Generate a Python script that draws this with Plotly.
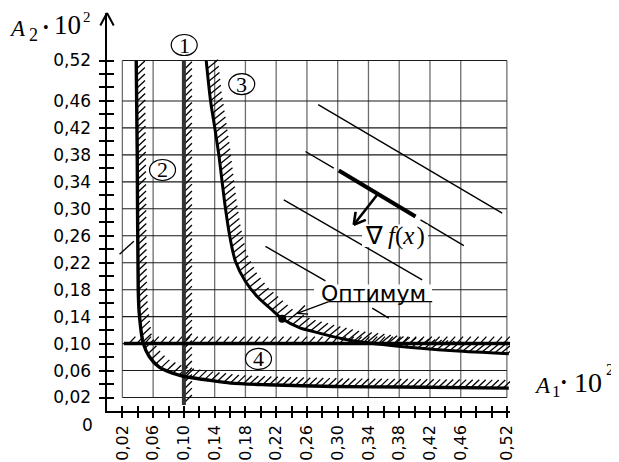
import math
import plotly.graph_objects as go

# ---------------- data ----------------
X_LABEL_VALS = [0.02, 0.06, 0.10, 0.14, 0.18, 0.22, 0.26, 0.30, 0.34, 0.38, 0.42, 0.46, 0.52]
Y_LABEL_VALS = [0.02, 0.06, 0.10, 0.14, 0.18, 0.22, 0.26, 0.30, 0.34, 0.38, 0.42, 0.46, 0.52]
X_LABELS = ["0,02", "0,06", "0,10", "0,14", "0,18", "0,22", "0,26", "0,30", "0,34", "0,38", "0,42", "0,46", "0,52"]
Y_LABELS = ["0,02", "0,06", "0,10", "0,14", "0,18", "0,22", "0,26", "0,30", "0,34", "0,38", "0,42", "0,46", "0,52"]
TICK_STEP = 0.02
GRID_X = [0.02, 0.06, 0.10, 0.14, 0.18, 0.22, 0.26, 0.30, 0.34, 0.38, 0.42, 0.46, 0.52]
GRID_Y = [0.02, 0.06, 0.10, 0.14, 0.18, 0.22, 0.26, 0.30, 0.34, 0.38, 0.42, 0.46, 0.52]

# constraint 1: A1 = 0.10
LINE1_X = [0.10, 0.10]
LINE1_Y = [0.009, 0.52]
# constraint 4: A2 = 0.10
LINE4_X = [0.022, 0.525]
LINE4_Y = [0.10, 0.10]
# constraint 2 curve
CURVE2_X = [0.038, 0.0393, 0.0406, 0.0419, 0.0471, 0.0549, 0.0679, 0.0852, 0.1004, 0.1285, 0.161, 0.2083, 0.2949, 0.3817, 0.5225]
CURVE2_Y = [0.520, 0.3816, 0.1798, 0.1453, 0.1007, 0.0809, 0.0651, 0.0562, 0.0512, 0.0463, 0.0414, 0.0389, 0.0364, 0.0355, 0.0340]
# constraint 3 curve
CURVE3_X = [0.129, 0.1346, 0.1402, 0.1454, 0.1498, 0.1541, 0.1597, 0.1671, 0.1801, 0.1953, 0.2169, 0.2278, 0.2516, 0.2646, 0.3124, 0.3817, 0.4510, 0.5225]
CURVE3_Y = [0.520, 0.4607, 0.4197, 0.3801, 0.3390, 0.3000, 0.2589, 0.2218, 0.1921, 0.1699, 0.1476, 0.1368, 0.1230, 0.1190, 0.1056, 0.0957, 0.0893, 0.0849]

# objective function level lines (segments: x0, y0, x1, y1)
LEVEL_LINES = [
    (0.2746, 0.4545, 0.5139, 0.2936),
    (0.2581, 0.3850, 0.2949, 0.3604),
    (0.4077, 0.2837, 0.4640, 0.2455),
    (0.2299, 0.3134, 0.4099, 0.1947),
    (0.2061, 0.2441, 0.2841, 0.1932),
    (0.3449, 0.1527, 0.3664, 0.1378),
    (0.0163, 0.2326, 0.0349, 0.2519),
]
THICK_LEVEL = (0.3014, 0.3568, 0.4012, 0.2886)
GRAD_ARROW = (0.3514, 0.3208, 0.3209, 0.2763)

OPT_X = [0.2278]
OPT_Y = [0.1368]
OPT_UNDERLINE = (0.2884, 0.1622, 0.4229, 0.1622)
OPT_LEADER_TIP = (0.2473, 0.1450)
OPT_LABEL = ("Оптимум", 0.3459, 0.1750)
GRAD_LABEL = ("∇\u2009<i>f</i>(<i>x</i>\u200a)", 0.3745, 0.2596)

CIRCLE_LABELS = ["1", "2", "3", "4"]
CIRCLE_X = [0.1004, 0.0722, 0.1752, 0.197]
CIRCLE_Y = [0.543, 0.3576, 0.485, 0.0772]

# ---------------- geometry (page has an 8px body margin) ----------------
OFF = 8
W, H = 619 - OFF, 462 - OFF
PL, PR, PT, PB = 107, 510, 13, 411          # plot area in page pixels
ML, MR, MT, MB = PL - OFF, W - (PR - OFF), PT - OFF, H - (PB - OFF)
KX, KY = 769.0, 674.0
XR = [0, (PR - PL) / KX]
YR = [0, (PB - PT) / KY]


def paper_x(px):
    return (px - PL) / (PR - PL)


def paper_y(py):
    return (PB - py) / (PB - PT)


def segs_xy(segs):
    xs, ys = [], []
    for (a, b, c, d) in segs:
        xs += [a, c, None]
        ys += [b, d, None]
    return xs, ys


def barbs(x0, y0, x1, y1, length=11, ang=28):
    ux, uy = (x1 - x0) * KX, (y1 - y0) * KY
    n = math.hypot(ux, uy)
    ux, uy = ux / n, uy / n
    out = []
    for s in (1, -1):
        a = math.radians(ang) * s
        rx = ux * math.cos(a) - uy * math.sin(a)
        ry = ux * math.sin(a) + uy * math.cos(a)
        out.append((x1, y1, x1 - rx * length / KX, y1 - ry * length / KY))
    return out


def hatch(xs, ys, spacing=6.5, dxp=8.0, dyp=8.0, ymax=0.522, start=2.0):
    px = [x * KX for x in xs]
    py = [y * KY for y in ys]
    segs = []
    s_next = start
    acc = 0.0
    for i in range(len(px) - 1):
        x0, y0, x1, y1 = px[i], py[i], px[i + 1], py[i + 1]
        L = math.hypot(x1 - x0, y1 - y0)
        while s_next <= acc + L:
            t = (s_next - acc) / L
            X = x0 + t * (x1 - x0)
            Y = y0 + t * (y1 - y0)
            if (Y + dyp) / KY <= ymax:
                segs.append((X / KX, Y / KY, (X + dxp) / KX, (Y + dyp) / KY))
            s_next += spacing
        acc += L
    return segs


fig = go.Figure()

# grid
gv = [(g, GRID_Y[0], g, GRID_Y[-1]) for g in GRID_X]
gh = [(GRID_X[0], g, GRID_X[-1], g) for g in GRID_Y]
x, y = segs_xy(gv)
fig.add_trace(go.Scatter(x=x, y=y, mode="lines", line=dict(color="#6e6e6e", width=1.3), hoverinfo="skip"))
x, y = segs_xy(gh)
fig.add_trace(go.Scatter(x=x, y=y, mode="lines", line=dict(color="#1a1a1a", width=1.1), hoverinfo="skip"))

# hatching
hs = []
hs += hatch(LINE1_X, LINE1_Y, spacing=6.8, dxp=8, dyp=8)
hs += hatch(LINE4_X, LINE4_Y, spacing=7.8, dxp=6.5, dyp=7, start=5)
hs += hatch(CURVE2_X, CURVE2_Y, spacing=6.5, dxp=8.5, dyp=8)
hs += hatch(CURVE3_X, CURVE3_Y, spacing=6.4, dxp=11, dyp=9)
x, y = segs_xy(hs)
fig.add_trace(go.Scatter(x=x, y=y, mode="lines", line=dict(color="black", width=1.3), hoverinfo="skip"))

# level lines
x, y = segs_xy(LEVEL_LINES)
fig.add_trace(go.Scatter(x=x, y=y, mode="lines", line=dict(color="black", width=1.4), hoverinfo="skip"))
x, y = segs_xy([THICK_LEVEL])
fig.add_trace(go.Scatter(x=x, y=y, mode="lines", line=dict(color="black", width=4), hoverinfo="skip"))

# gradient arrow
g = GRAD_ARROW
x, y = segs_xy([g] + barbs(*g, length=13, ang=30))
fig.add_trace(go.Scatter(x=x, y=y, mode="lines", line=dict(color="black", width=2.6), hoverinfo="skip"))

# constraint lines
fig.add_trace(go.Scatter(x=LINE1_X, y=LINE1_Y, mode="lines", line=dict(color="#333333", width=4), hoverinfo="skip"))
fig.add_trace(go.Scatter(x=LINE4_X, y=LINE4_Y, mode="lines", line=dict(color="black", width=3.5), hoverinfo="skip"))
fig.add_trace(go.Scatter(x=CURVE2_X, y=CURVE2_Y, mode="lines", line=dict(color="black", width=3.4, shape="spline", smoothing=0.8), hoverinfo="skip"))
fig.add_trace(go.Scatter(x=CURVE3_X, y=CURVE3_Y, mode="lines", line=dict(color="black", width=3, shape="spline", smoothing=0.8), hoverinfo="skip"))

# optimum
fig.add_trace(go.Scatter(x=OPT_X, y=OPT_Y, mode="markers", marker=dict(color="black", size=8), hoverinfo="skip"))
lead = (OPT_UNDERLINE[0], OPT_UNDERLINE[1], OPT_LEADER_TIP[0], OPT_LEADER_TIP[1])
x, y = segs_xy([lead] + barbs(*lead, length=11, ang=25))
fig.add_trace(go.Scatter(x=x, y=y, mode="lines", line=dict(color="black", width=1.3), hoverinfo="skip"))

# dummy for overlay axes (inner tick halves)
fig.add_trace(go.Scatter(x=[None], y=[None], xaxis="x2", yaxis="y2", hoverinfo="skip"))

shapes = []
# y axis arrow head (paper coords so it is not clipped)
for s in (-1, 1):
    shapes.append(dict(type="line", xref="paper", yref="paper", x0=0, y0=1,
                       x1=s * 6.7 / (PR - PL), y1=1 - 12.5 / (PB - PT),
                       line=dict(color="black", width=2)))


def mask(cx, cy, hw_l, hw_r, hh_t, hh_b):
    return dict(type="rect", xref="x", yref="y", xsizemode="pixel", ysizemode="pixel",
                xanchor=cx, yanchor=cy, x0=-hw_l, x1=hw_r, y0=-hh_b, y1=hh_t,
                line=dict(width=0), fillcolor="white", layer="above")


# white masks behind the two labels, then the underline on top
shapes.append(mask(OPT_LABEL[1], OPT_LABEL[2], 59, 59, 8.5, 8))
shapes.append(mask(GRAD_LABEL[1], GRAD_LABEL[2], 33, 33, 11.5, 11))
shapes.append(dict(type="line", xref="x", yref="y", x0=OPT_UNDERLINE[0], y0=OPT_UNDERLINE[1],
                   x1=OPT_UNDERLINE[2], y1=OPT_UNDERLINE[3], line=dict(color="black", width=1.3), layer="above"))

anns = []
for lab, cx, cy in zip(CIRCLE_LABELS, CIRCLE_X, CIRCLE_Y):
    shapes.append(dict(type="circle", xref="x", yref="y", xsizemode="pixel", ysizemode="pixel",
                       xanchor=cx, yanchor=cy, x0=-13, x1=13, y0=-10.5, y1=10.5,
                       line=dict(color="black", width=1.2), fillcolor="white", layer="above"))
    anns.append(dict(x=cx, y=cy, xref="x", yref="y", text=lab, showarrow=False,
                     font=dict(family="Liberation Serif", size=22, color="black")))

anns.append(dict(x=OPT_LABEL[1], y=OPT_LABEL[2], xref="x", yref="y", text=OPT_LABEL[0], showarrow=False,
                 font=dict(family="DejaVu Sans", size=22, color="black")))
anns.append(dict(x=GRAD_LABEL[1], y=GRAD_LABEL[2], xref="x", yref="y", text=GRAD_LABEL[0], showarrow=False,
                 font=dict(family="Liberation Serif", size=25, color="black")))


def txt(px, py, text, size, family="Liberation Serif"):
    return dict(x=paper_x(px), y=paper_y(py), xref="paper", yref="paper", xanchor="center", yanchor="middle",
                text=text, showarrow=False, font=dict(family=family, size=size, color="black"))


anns.append(txt(87, 425, "0", 17, "DejaVu Sans"))
# axis titles  A2·10^2  and  A1·10^2
anns += [txt(17, 28, "<i>A</i>", 23), txt(33, 35, "2", 18), txt(46, 27, "•", 16),
         txt(67.5, 25, "10", 27), txt(87, 17, "2", 15)]
anns += [txt(542.5, 385, "<i>A</i>", 23), txt(556, 391, "1", 17), txt(564, 382, "•", 16),
         txt(587.5, 382, "10", 28), txt(610, 369, "2", 16)]

all_ticks = [round(TICK_STEP * i, 2) for i in range(1, 27)]
xt = [X_LABELS[X_LABEL_VALS.index(v)] if v in X_LABEL_VALS else "" for v in all_ticks]
yt = [Y_LABELS[Y_LABEL_VALS.index(v)] if v in Y_LABEL_VALS else "" for v in all_ticks]

fig.update_layout(
    width=W, height=H, margin=dict(l=ML, r=MR, t=MT, b=MB, pad=0),
    paper_bgcolor="white", plot_bgcolor="white", showlegend=False,
    shapes=shapes, annotations=anns,
    xaxis=dict(range=XR, tickmode="array", tickvals=all_ticks, ticktext=xt, ticks="outside", ticklen=5,
               tickwidth=1.5, tickcolor="black", tickangle=-90,
               tickfont=dict(family="DejaVu Sans", size=16, color="black"), showline=True,
               linecolor="black", linewidth=1.5, showgrid=False, zeroline=False, automargin=False,
               ticklabelstandoff=1, fixedrange=True),
    yaxis=dict(range=YR, tickmode="array", tickvals=all_ticks, ticktext=yt, ticks="outside", ticklen=6.5,
               tickwidth=2, tickcolor="black", tickfont=dict(family="DejaVu Sans", size=17, color="black"),
               showline=True, linecolor="black", linewidth=2, showgrid=False, zeroline=False,
               automargin=False, ticklabelstandoff=4, fixedrange=True),
    xaxis2=dict(range=XR, overlaying="x", anchor="y2", side="bottom", tickmode="array", tickvals=all_ticks,
                ticks="inside", ticklen=5, tickwidth=1.5, tickcolor="black", showticklabels=False,
                showline=False, showgrid=False, zeroline=False, automargin=False),
    yaxis2=dict(range=YR, overlaying="y", anchor="x2", side="left", tickmode="array", tickvals=all_ticks,
                ticks="inside", ticklen=6.5, tickwidth=2, tickcolor="black", showticklabels=False,
                showline=False, showgrid=False, zeroline=False, automargin=False),
)

fig.write_html("out.html")
